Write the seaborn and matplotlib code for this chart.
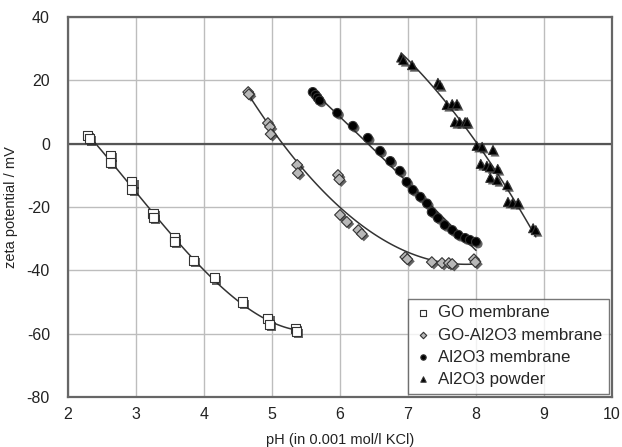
import numpy as np
import pandas as pd
import matplotlib
matplotlib.use("Agg")
import matplotlib.pyplot as plt
import matplotlib.patheffects as pe
import seaborn as sns

# ---- data ----
go_ph = [2.29, 2.31, 2.62, 2.63, 2.94, 2.94, 3.25, 3.26, 3.56, 3.57, 3.84, 4.15, 4.57, 4.94, 4.96, 5.34, 5.36]
go_zeta = [2.7, 1.5, -3.6, -5.8, -12.1, -14.4, -21.9, -23.2, -29.6, -31.0, -36.8, -42.4, -50.0, -55.1, -57.0, -58.5, -59.2]

goal_ph = [4.65, 4.66, 4.94, 4.97, 4.98, 5.37, 5.38, 5.97, 5.99, 6.00, 6.10, 6.27, 6.32, 6.96, 6.99, 7.35, 7.50, 7.60, 7.65, 7.97, 7.99]
goal_zeta = [16.3, 15.6, 6.5, 5.3, 3.0, -6.7, -9.3, -9.9, -11.3, -22.5, -24.7, -27.3, -28.5, -35.8, -36.5, -37.4, -37.7, -37.7, -38.0, -36.5, -37.4]

al_ph = [5.60, 5.64, 5.67, 5.70, 5.96, 6.19, 6.41, 6.59, 6.74, 6.88, 6.98, 7.07, 7.18, 7.28, 7.35, 7.44, 7.54, 7.65, 7.74, 7.84, 7.91, 8.00]
al_zeta = [16.3, 15.4, 14.5, 13.6, 9.7, 5.6, 1.8, -2.3, -5.5, -8.6, -12.1, -14.6, -16.8, -18.9, -21.6, -23.5, -25.7, -27.3, -28.8, -29.8, -30.4, -31.0]

pw_ph = [6.90, 6.93, 7.06, 7.44, 7.47, 7.57, 7.65, 7.72, 7.69, 7.76, 7.84, 7.87, 8.01, 8.09, 8.25,
         8.07, 8.16, 8.21, 8.32, 8.21, 8.31, 8.46, 8.47, 8.54, 8.62, 8.84, 8.88]
pw_zeta = [27.2, 26.4, 24.8, 19.2, 18.5, 12.2, 12.5, 12.5, 6.8, 6.8, 6.8, 6.8, -0.7, -1.0, -2.0,
           -6.4, -7.0, -7.4, -8.0, -10.8, -11.5, -13.1, -18.4, -18.7, -18.7, -26.7, -27.3]

series_names = ["GO membrane", "GO-Al2O3 membrane", "Al2O3 membrane", "Al2O3 powder"]
x_ticks = [2, 3, 4, 5, 6, 7, 8, 9, 10]
y_ticks = [-80, -60, -40, -20, 0, 20, 40]

sns.set_theme(style="white")
plt.rcParams["font.family"] = ["Liberation Sans", "DejaVu Sans"]
plt.rcParams["axes.unicode_minus"] = False

fig = plt.figure(figsize=(6.22, 4.47), dpi=100)
ax = fig.add_axes([68 / 622, 1 - 397 / 447, 544 / 622, 380 / 447])

ax.set_xlim(2, 10)
ax.set_ylim(-80, 40)
ax.set_xticks(x_ticks)
ax.set_yticks(y_ticks)
ax.grid(True, color="#bdbdbd", linewidth=1.0)
ax.set_axisbelow(True)
ax.axhline(0, color="#555555", linewidth=1.6, zorder=1)
for s in ax.spines.values():
    s.set_color("#666666")
    s.set_linewidth(1.6)

styles = [
    (go_ph, go_zeta, "s", "white", 3),
    (goal_ph, goal_zeta, "D", "#b8b8b8", 2),
    (al_ph, al_zeta, "o", "black", 2),
    (pw_ph, pw_zeta, "^", "black", 2),
]

shadow = [pe.SimplePatchShadow(offset=(1.5, -1.5), shadow_rgbFace="#222222", alpha=0.7), pe.Normal()]

for (xs, ys, m, fc, order), name in zip(styles, series_names):
    df = pd.DataFrame({"pH": xs, "zeta": ys})
    sns.regplot(data=df, x="pH", y="zeta", order=order, ci=None, scatter=False, ax=ax,
                line_kws=dict(color="#333333", linewidth=1.1, zorder=3))
    ms = 42 if m != "D" else 30
    sc = ax.scatter(xs, ys, marker=m, s=ms, facecolor=fc, edgecolor="#333333", linewidth=0.8,
                    zorder=4, label=name)
    sc.set_path_effects(shadow)

ax.set_xlabel("pH (in 0.001 mol/l KCl)", fontsize=10.5, color="#222222", labelpad=8)
ax.set_ylabel("zeta potential / mV", fontsize=10.5, color="#222222", labelpad=6)
ax.tick_params(axis="x", labelsize=11.5, colors="#222222", length=0, pad=7)
ax.tick_params(axis="y", labelsize=11.5, colors="#222222", length=0, pad=13)

leg = ax.legend(loc="lower right", fontsize=12.2, frameon=True, fancybox=False,
                markerscale=0.6, handletextpad=0.35, borderaxespad=0.2, labelspacing=0.42,
                handlelength=1.0, borderpad=0.4)
leg.get_frame().set_edgecolor("#555555")
leg.get_frame().set_linewidth(1.0)
for h in leg.legend_handles:
    h.set_path_effects([])

fig.savefig("out.png", dpi=100)
